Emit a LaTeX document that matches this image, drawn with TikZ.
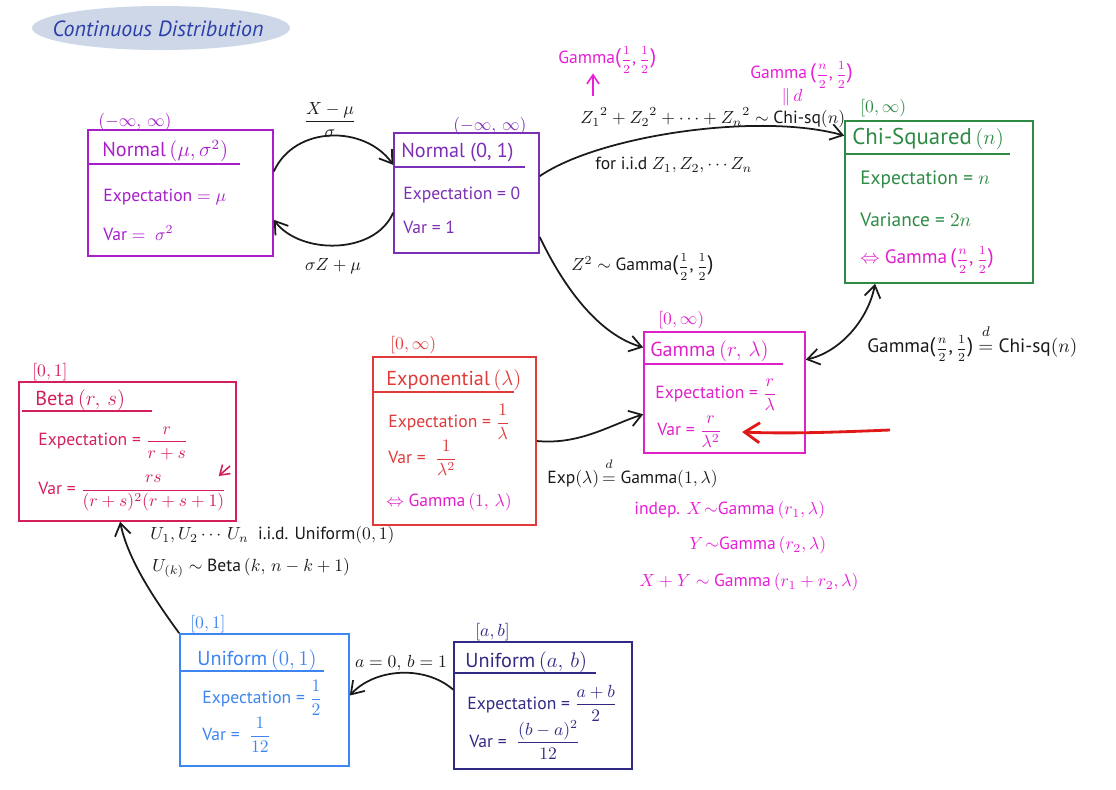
\documentclass[tikz,border=0pt]{standalone}
\usepackage{fontspec}
\setmainfont{PT Sans}
\usepackage{amsmath}
\usepackage{tikz}
\usetikzlibrary{arrows.meta,positioning,calc,fit,shapes.geometric}
\definecolor{TitleInk}{HTML}{2C3FA8}
\definecolor{TitleBg}{HTML}{CDD7E8}
\definecolor{NormA}{HTML}{A81ECB}
\definecolor{NormB}{HTML}{7B2FB5}
\definecolor{ChiG}{HTML}{2E8B45}
\definecolor{GamM}{HTML}{E020C8}
\definecolor{ExpR}{HTML}{E03A3A}
\definecolor{BetaC}{HTML}{D42058}
\definecolor{UnifB}{HTML}{3D85F0}
\definecolor{UnifN}{HTML}{302A85}
\definecolor{Note}{HTML}{E81ED8}
\definecolor{Ink}{HTML}{1A1A1A}
\definecolor{RedInk}{HTML}{E01818}
\newcommand\halffr[1]{{\fontsize{7}{8}\selectfont$\dfrac{#1}{2}$}}
\newcommand\gampar[2]{{\large(}\halffr{#1},\,\halffr{#2}{\large)}}
\newcommand\deq{$\mathrel{\overset{\raisebox{3pt}{$\scriptstyle d$}}{=}}$}
\tikzset{
  distbox/.style={draw=#1, line width=0.9pt, inner sep=0pt},
  rule/.style={draw=#1, line width=0.9pt},
  hdr/.style={anchor=west, inner sep=0pt, text=#1, font=\fontsize{11.5}{13}\selectfont},
  txt/.style={anchor=west, inner sep=0pt, text=#1, font=\fontsize{10}{12}\selectfont},
  rng/.style={anchor=west, inner sep=0pt, text=#1, font=\fontsize{10}{12}\selectfont},
  note/.style={anchor=west, inner sep=0pt, text=#1, font=\fontsize{10}{12}\selectfont},
  conn/.style={-{Straight Barb[length=2.4mm,width=3.2mm]}, line width=1pt, draw=Ink},
  bothconn/.style={{Straight Barb[length=2.4mm,width=3.2mm]}-{Straight Barb[length=2.4mm,width=3.2mm]}, line width=1pt, draw=Ink},
  notearrow/.style={-{Straight Barb[length=1.8mm,width=2.4mm]}, line width=0.9pt, draw=#1},
  redarrow/.style={-{Straight Barb[length=3mm,width=4mm]}, line width=1.6pt, draw=RedInk},
}
\begin{document}
\begin{tikzpicture}[x=0.02cm,y=-0.02cm]
\path[use as bounding box] (0,0) rectangle (1116,789);
\fill[white] (0,0) rectangle (1116,789);

% title
\fill[TitleBg] (161,28) ellipse [x radius=129, y radius=22];
\node[text=TitleInk, inner sep=0pt, font=\fontsize{12.5}{15}\selectfont\itshape] (title) at (158,29) {Continuous Distribution};

% Normal(mu, sigma^2)
\node[distbox=NormA, fit={(88,130) (273,256)}] (nmu) {};
\node[rng=NormA] (nmurng) at (98,122) {$(-\infty,\,\infty)$};
\node[hdr=NormA] (nmuhdr) at (102,151) {Normal$\,(\mu,\sigma^2)$};
\draw[rule=NormA] (88,164) -- (240,164);
\node[txt=NormA] (nmuexp) at (103,197) {Expectation $=\mu$};
\node[txt=NormA] (nmuvar) at (103,233) {Var $=\ \sigma^2$};

% Normal(0,1)
\node[distbox=NormB, fit={(394,133) (539,253)}] (nstd) {};
\node[rng=NormB] (nstdrng) at (453,126) {$(-\infty,\,\infty)$};
\node[hdr=NormB] (nstdhdr) at (401,153) {Normal (0, 1)};
\draw[rule=NormB] (394,167) -- (525,167);
\node[txt=NormB] (nstdexp) at (403,195) {Expectation = 0};
\node[txt=NormB] (nstdvar) at (403,227) {Var = 1};

% Chi-Squared(n)
\node[distbox=ChiG, fit={(845,121) (1033,283)}] (chi) {};
\node[rng=ChiG] (chirng) at (860,108) {$[0,\infty)$};
\node[hdr=ChiG, font=\fontsize{13}{15}\selectfont] (chihdr) at (852,139) {Chi-Squared$\,(n)$};
\draw[rule=ChiG] (845,154) -- (1010,154);
\node[txt=ChiG, font=\fontsize{11}{13}\selectfont] (chiexp) at (860,180) {Expectation = $n$};
\node[txt=ChiG, font=\fontsize{11}{13}\selectfont] (chivar) at (860,220) {Variance = $2n$};
\node[txt=GamM, font=\fontsize{11}{13}\selectfont] (chigam) at (860,260) {$\Leftrightarrow$ Gamma\,\gampar{n}{1}};

% Gamma(r, lambda)
\node[distbox=GamM, fit={(644,332) (805,453)}] (gam) {};
\node[rng=GamM] (gamrng) at (658,320) {$[0,\infty)$};
\node[hdr=GamM] (gamhdr) at (650,351) {Gamma$\,(r,\,\lambda)$};
\draw[rule=GamM] (644,364) -- (783,364);
\node[txt=GamM] (gamexp) at (655,395) {Expectation = $\dfrac{r}{\lambda}$};
\node[txt=GamM] (gamvar) at (657,432) {Var = $\dfrac{r}{\lambda^2}$};

% Exponential(lambda)
\node[distbox=ExpR, fit={(373,357) (536,525)}] (expo) {};
\node[rng=ExpR] (exporng) at (390,345) {$[0,\infty)$};
\node[hdr=ExpR] (expohdr) at (386,380) {Exponential$\,(\lambda)$};
\draw[rule=ExpR] (373,392) -- (514,392);
\node[txt=ExpR] (expoexp) at (388,422) {Expectation = $\dfrac{1}{\lambda}$};
\node[txt=ExpR] (expovar) at (388,458) {Var = \ $\dfrac{1}{\lambda^2}$};
\node[txt=GamM] (expogam) at (386,502) {$\Leftrightarrow$ Gamma$\,(1,\,\lambda)$};

% Beta(r, s)
\node[distbox=BetaC, fit={(19,382) (236,521)}] (beta) {};
\node[rng=BetaC] (betarng) at (32,372) {$[0,1]$};
\node[hdr=BetaC] (betahdr) at (35,400) {Beta$\,(r,\,s)$};
\draw[rule=BetaC] (22,411) -- (152,411);
\node[txt=BetaC] (betaexp) at (38,443) {Expectation = $\dfrac{r}{r+s}$};
\node[txt=BetaC] (betavar) at (38,493) {Var = $\dfrac{rs}{(r+s)^2(r+s+1)}$};
\coordinate (betatick) at (230,466);
\draw[notearrow=BetaC] (betatick) -- ($(betavar.east)+(-8,-17)$);

% Uniform(0,1)
\node[distbox=UnifB, fit={(180,634) (349,766)}] (unif) {};
\node[rng=UnifB] (unifrng) at (190,624) {$[0,1]$};
\node[hdr=UnifB] (unifhdr) at (197,660) {Uniform$\,(0,1)$};
\draw[rule=UnifB] (180,671) -- (324,671);
\node[txt=UnifB] (unifexp) at (202,698) {Expectation = $\dfrac{1}{2}$};
\node[txt=UnifB] (unifvar) at (202,735) {Var = \ $\dfrac{1}{12}$};

% Uniform(a,b)
\node[distbox=UnifN, fit={(454,642) (632,769)}] (unab) {};
\node[rng=UnifN] (unabrng) at (475,632) {$[a,b]$};
\node[hdr=UnifN] (unabhdr) at (465,662) {Uniform$\,(a,\,b)$};
\draw[rule=UnifN] (454,673) -- (596,673);
\node[txt=UnifN] (unabexp) at (467,703) {Expectation = $\dfrac{a+b}{2}$};
\node[txt=UnifN] (unabvar) at (469,740) {Var = \ $\dfrac{(b-a)^2}{12}$};

% normal <-> standard normal
\draw[conn] (nmu.13) .. controls (295,125) and (365,125) .. (nstd.159);
\node[note=Ink, anchor=center] (stdlbl) at (330,120) {$\dfrac{X-\mu}{\sigma}$};
\draw[conn] (nstd.195) .. controls (375,255) and (300,255) .. (nmu.-16);
\node[note=Ink, anchor=center] (unstdlbl) at (333,266) {$\sigma Z+\mu$};

% standard normal -> chi-squared
\draw[conn] (nstd.13) .. controls (600,135) and (760,112) .. (chi.145);
\node[note=Ink] (sumlbl) at (580,118) {${Z_1}^2+{Z_2}^2+\cdots+{Z_n}^2\sim$ Chi-sq$(n)$};
\node[note=Ink] (iidlbl) at (595,165) {for i.i.d $Z_1, Z_2,\cdots Z_n$};
\node[note=Note] (halfgam) at (558,60) {Gamma\gampar{1}{1}};
\coordinate (zsq) at (593,96);
\draw[notearrow=Note] (zsq) -- (zsq |- halfgam.south);
\node[note=Note] (ngam) at (750,75) {Gamma\,\gampar{n}{1}};
\node[note=Note, anchor=center] (ngameq) at (792,97) {$\|\,d$};

% standard normal -> gamma
\draw[conn] (nstd.-31) .. controls (565,290) and (600,335) .. (gam.151);
\node[note=Ink] (zgamlbl) at (571,267) {$Z^2\sim$ Gamma\gampar{1}{1}};

% chi-squared <-> gamma
\draw[bothconn] (chi.232) .. controls (868,320) and (840,352) .. (gam.22);
\node[note=Ink, font=\fontsize{11}{13}\selectfont] (chigamlbl) at (867,343) {Gamma\gampar{n}{1} \deq\ Chi-sq$(n)$};

% exponential -> gamma
\draw[conn] (expo.0) .. controls (580,445) and (610,425) .. (gam.195);
\node[note=Ink] (expgamlbl) at (547,473) {Exp$(\lambda)$\,\deq\ Gamma$(1,\lambda)$};

% gamma sums
\node[note=Note] (sumx) at (634,510) {indep. $X\!\sim$Gamma$\,(r_1,\lambda)$};
\node[note=Note] (sumy) at (689,545) {$Y\!\sim$Gamma$\,(r_2,\lambda)$};
\node[note=Note] (sumxy) at (639,582) {$X+Y\sim$ Gamma$\,(r_1+r_2,\lambda)$};

% red pointer to gamma variance
\coordinate (redtail) at (890,430);
\draw[redarrow] (redtail) .. controls (840,432) and (790,434) .. ([xshift=0.4cm]gamvar.east);

% uniform -> beta
\draw[conn] (unif.north west) .. controls (155,600) and (128,560) .. (beta.264);
\node[note=Ink] (orderlbl) at (150,535) {$U_1, U_2\cdots\, U_n$ \ i.i.d. Uniform$(0,1)$};
\node[note=Ink] (kthlbl) at (152,568) {$U_{(k)}\sim$ Beta$\,(k,\,n-k+1)$};

% uniform(a,b) -> uniform(0,1)
\draw[conn] (unab.170) .. controls (425,665) and (375,668) .. (unif.3);
\node[note=Ink, anchor=center] (ablbl) at (401,663) {$a=0,\,b=1$};
\end{tikzpicture}
\end{document}
